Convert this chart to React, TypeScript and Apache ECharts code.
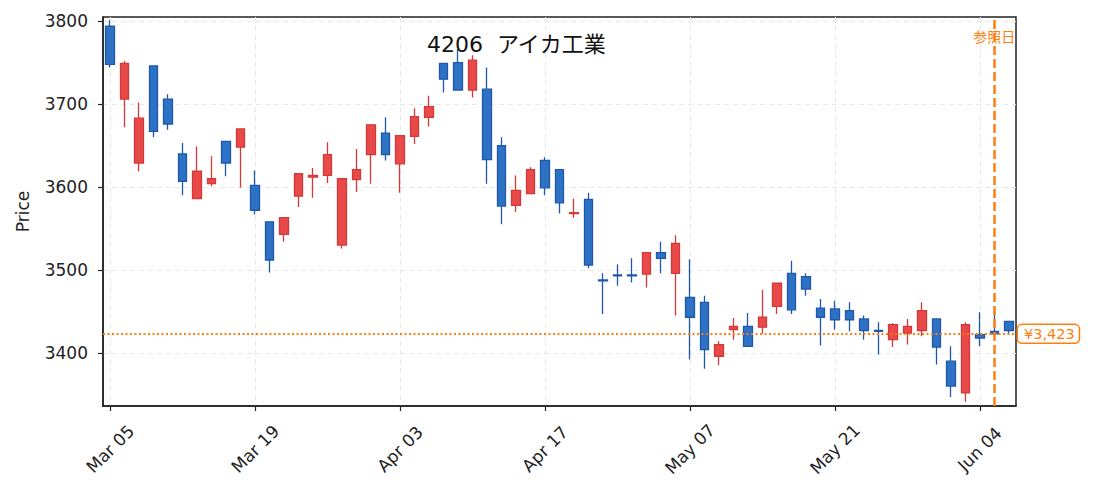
import React, { useEffect, useRef } from "react";
import * as echarts from "echarts";

const dates = [
  "Mar 05", "Mar 06", "Mar 09", "Mar 10", "Mar 11", "Mar 12", "Mar 13", "Mar 16", "Mar 17", "Mar 18",
  "Mar 19", "Mar 23", "Mar 24", "Mar 25", "Mar 26", "Mar 27", "Mar 30", "Mar 31", "Apr 01", "Apr 02",
  "Apr 03", "Apr 06", "Apr 07", "Apr 08", "Apr 09", "Apr 10", "Apr 13", "Apr 14", "Apr 15", "Apr 16",
  "Apr 17", "Apr 20", "Apr 21", "Apr 22", "Apr 23", "Apr 24", "Apr 27", "Apr 28", "Apr 30", "May 01",
  "May 07", "May 08", "May 11", "May 12", "May 13", "May 14", "May 15", "May 18", "May 19", "May 20",
  "May 21", "May 22", "May 25", "May 26", "May 27", "May 28", "May 29", "Jun 01", "Jun 02", "Jun 03",
  "Jun 04", "Jun 05", "Jun 08",
];

const opens = [
  3794, 3706, 3629, 3746, 3706, 3640, 3586, 3604, 3655, 3648,
  3602, 3558, 3543, 3589, 3612, 3614, 3530, 3609, 3639, 3665,
  3628, 3661, 3684, 3749, 3750, 3717, 3718, 3650, 3578, 3592,
  3632, 3621, 3568, 3585, 3488, 3494, 3494, 3495, 3521, 3496,
  3467, 3461, 3396, 3428, 3432, 3431, 3456, 3496, 3492, 3454,
  3453, 3451, 3441, 3427, 3416, 3424, 3427, 3441, 3390, 3352,
  3422, 3426, 3438,
];

const closes = [
  3748, 3749, 3683, 3667, 3676, 3607, 3619, 3610, 3629, 3670,
  3572, 3512, 3563, 3616, 3614, 3639, 3610, 3621, 3675, 3639,
  3662, 3685, 3697, 3730, 3717, 3753, 3633, 3577, 3596, 3621,
  3599, 3581, 3569, 3506, 3487, 3493, 3493, 3521, 3514, 3532,
  3443, 3404, 3410, 3432, 3408, 3443, 3484, 3452, 3477, 3443,
  3440, 3440, 3427, 3426, 3434, 3432, 3451, 3407, 3360, 3434,
  3418, 3423, 3427,
];

const lows = [
  3744, 3672, 3619, 3660, 3669, 3590, 3586, 3601, 3613, 3599,
  3567, 3497, 3534, 3576, 3587, 3605, 3526, 3594, 3604, 3632,
  3593, 3652, 3673, 3714, 3717, 3708, 3604, 3555, 3570, 3592,
  3590, 3568, 3563, 3502, 3447, 3481, 3485, 3479, 3496, 3445,
  3392, 3381, 3385, 3416, 3408, 3423, 3447, 3447, 3469, 3409,
  3428, 3426, 3416, 3398, 3407, 3410, 3420, 3386, 3347, 3341,
  3408, 3421, 3424,
];

const highs = [
  3801, 3752, 3702, 3746, 3712, 3653, 3649, 3637, 3655, 3670,
  3620, 3558, 3563, 3616, 3623, 3654, 3610, 3646, 3675, 3684,
  3662, 3695, 3710, 3749, 3766, 3759, 3744, 3660, 3614, 3624,
  3636, 3621, 3586, 3593, 3496, 3507, 3514, 3521, 3534, 3542,
  3513, 3469, 3414, 3442, 3448, 3476, 3484, 3511, 3496, 3465,
  3463, 3461, 3445, 3437, 3436, 3441, 3461, 3441, 3408, 3437,
  3449, 3455, 3438,
];

const yTicks = [3400, 3500, 3600, 3700, 3800];
const yMin = 3336;
const yMax = 3805;

const refDate = "Jun 05";
const refPrice = 3423;
const refPriceLabel = "¥3,423";
const refDateLabel = "参照日";
const refLabelY = 3781;

const titleText = "4206  アイカ工業";
const yName = "Price";

const FONT = "'DejaVu Sans', 'Noto Sans CJK JP', sans-serif";
const ORANGE = "#ff7f0e";

export default function App() {
  const ref = useRef<HTMLDivElement>(null);

  useEffect(() => {
    if (!ref.current) return;
    const chart = echarts.init(ref.current, undefined, { renderer: "svg" });
    const ohlc = dates.map((_, i) => [opens[i], closes[i], lows[i], highs[i]]);

    chart.setOption({
      animation: false,
      backgroundColor: "#ffffff",
      textStyle: { fontFamily: FONT },
      title: {
        text: titleText,
        left: 422,
        top: 28,
        textStyle: { fontSize: 22, fontWeight: "normal", color: "#111", fontFamily: FONT },
      },
      grid: {
        left: 103,
        right: 77,
        top: 17,
        bottom: 88,
        show: true,
        borderColor: "#222",
        borderWidth: 1.5,
        backgroundColor: "transparent",
      },
      xAxis: {
        type: "category",
        data: dates,
        boundaryGap: true,
        axisLine: { show: true, lineStyle: { color: "#222", width: 1.5 } },
        axisTick: {
          show: true,
          interval: 9,
          alignWithLabel: true,
          length: 5,
          lineStyle: { color: "#222", width: 1.2 },
        },
        axisLabel: {
          interval: 9,
          rotate: 45,
          align: "center",
          verticalAlign: "middle",
          margin: 43,
          fontSize: 17,
          color: "#222",
          fontFamily: FONT,
        },
        splitLine: {
          show: true,
          interval: 9,
          alignWithLabel: true,
          lineStyle: { color: "#e8e8e8", type: [5, 4], width: 1 },
        },
      },
      yAxis: {
        type: "value",
        min: yMin,
        max: yMax,
        name: yName,
        nameLocation: "middle",
        nameGap: 72,
        nameTextStyle: { fontSize: 17, color: "#222", fontFamily: FONT },
        axisLine: { show: true, lineStyle: { color: "#222", width: 1.5 } },
        axisTick: {
          show: true,
          length: 5,
          customValues: yTicks,
          lineStyle: { color: "#222", width: 1.2 },
        },
        axisLabel: {
          customValues: yTicks,
          formatter: (v: number) => String(v),
          margin: 15,
          fontSize: 17,
          color: "#222",
          fontFamily: FONT,
        },
        splitLine: {
          show: true,
          lineStyle: { color: "#e8e8e8", type: [5, 4], width: 1 },
        },
      },
      series: [
        {
          type: "candlestick",
          data: ohlc,
          barWidth: 9,
          itemStyle: {
            color: "#e84a4a",
            color0: "#2e72c6",
            borderColor: "#d43838",
            borderColor0: "#1f58a8",
            borderWidth: 1.3,
          },
          markLine: {
            silent: true,
            symbol: ["none", "none"],
            data: [
              {
                yAxis: refPrice,
                lineStyle: { color: ORANGE, type: [2, 2.5], width: 2 },
                label: {
                  show: true,
                  position: "end",
                  distance: 2,
                  formatter: refPriceLabel,
                  color: ORANGE,
                  fontSize: 14.5,
                  fontFamily: FONT,
                  backgroundColor: "#fff",
                  borderColor: ORANGE,
                  borderWidth: 1.5,
                  borderRadius: 4,
                  padding: [2, 4, 1, 6],
                },
              },
              {
                xAxis: refDate,
                lineStyle: { color: ORANGE, type: [9, 4], width: 2.5 },
                label: { show: false },
              },
            ],
          },
          markPoint: {
            silent: true,
            symbol: "circle",
            symbolSize: 0,
            data: [
              {
                coord: [refDate, refLabelY],
                label: {
                  show: true,
                  position: "inside",
                  formatter: refDateLabel,
                  color: ORANGE,
                  fontSize: 14,
                  fontFamily: FONT,
                },
              },
            ],
          },
        },
      ],
    });

    return () => chart.dispose();
  }, []);

  return (
    <div
      ref={ref}
      style={{ position: "fixed", left: 0, top: 0, width: 1093, height: 494, background: "#fff" }}
    />
  );
}
